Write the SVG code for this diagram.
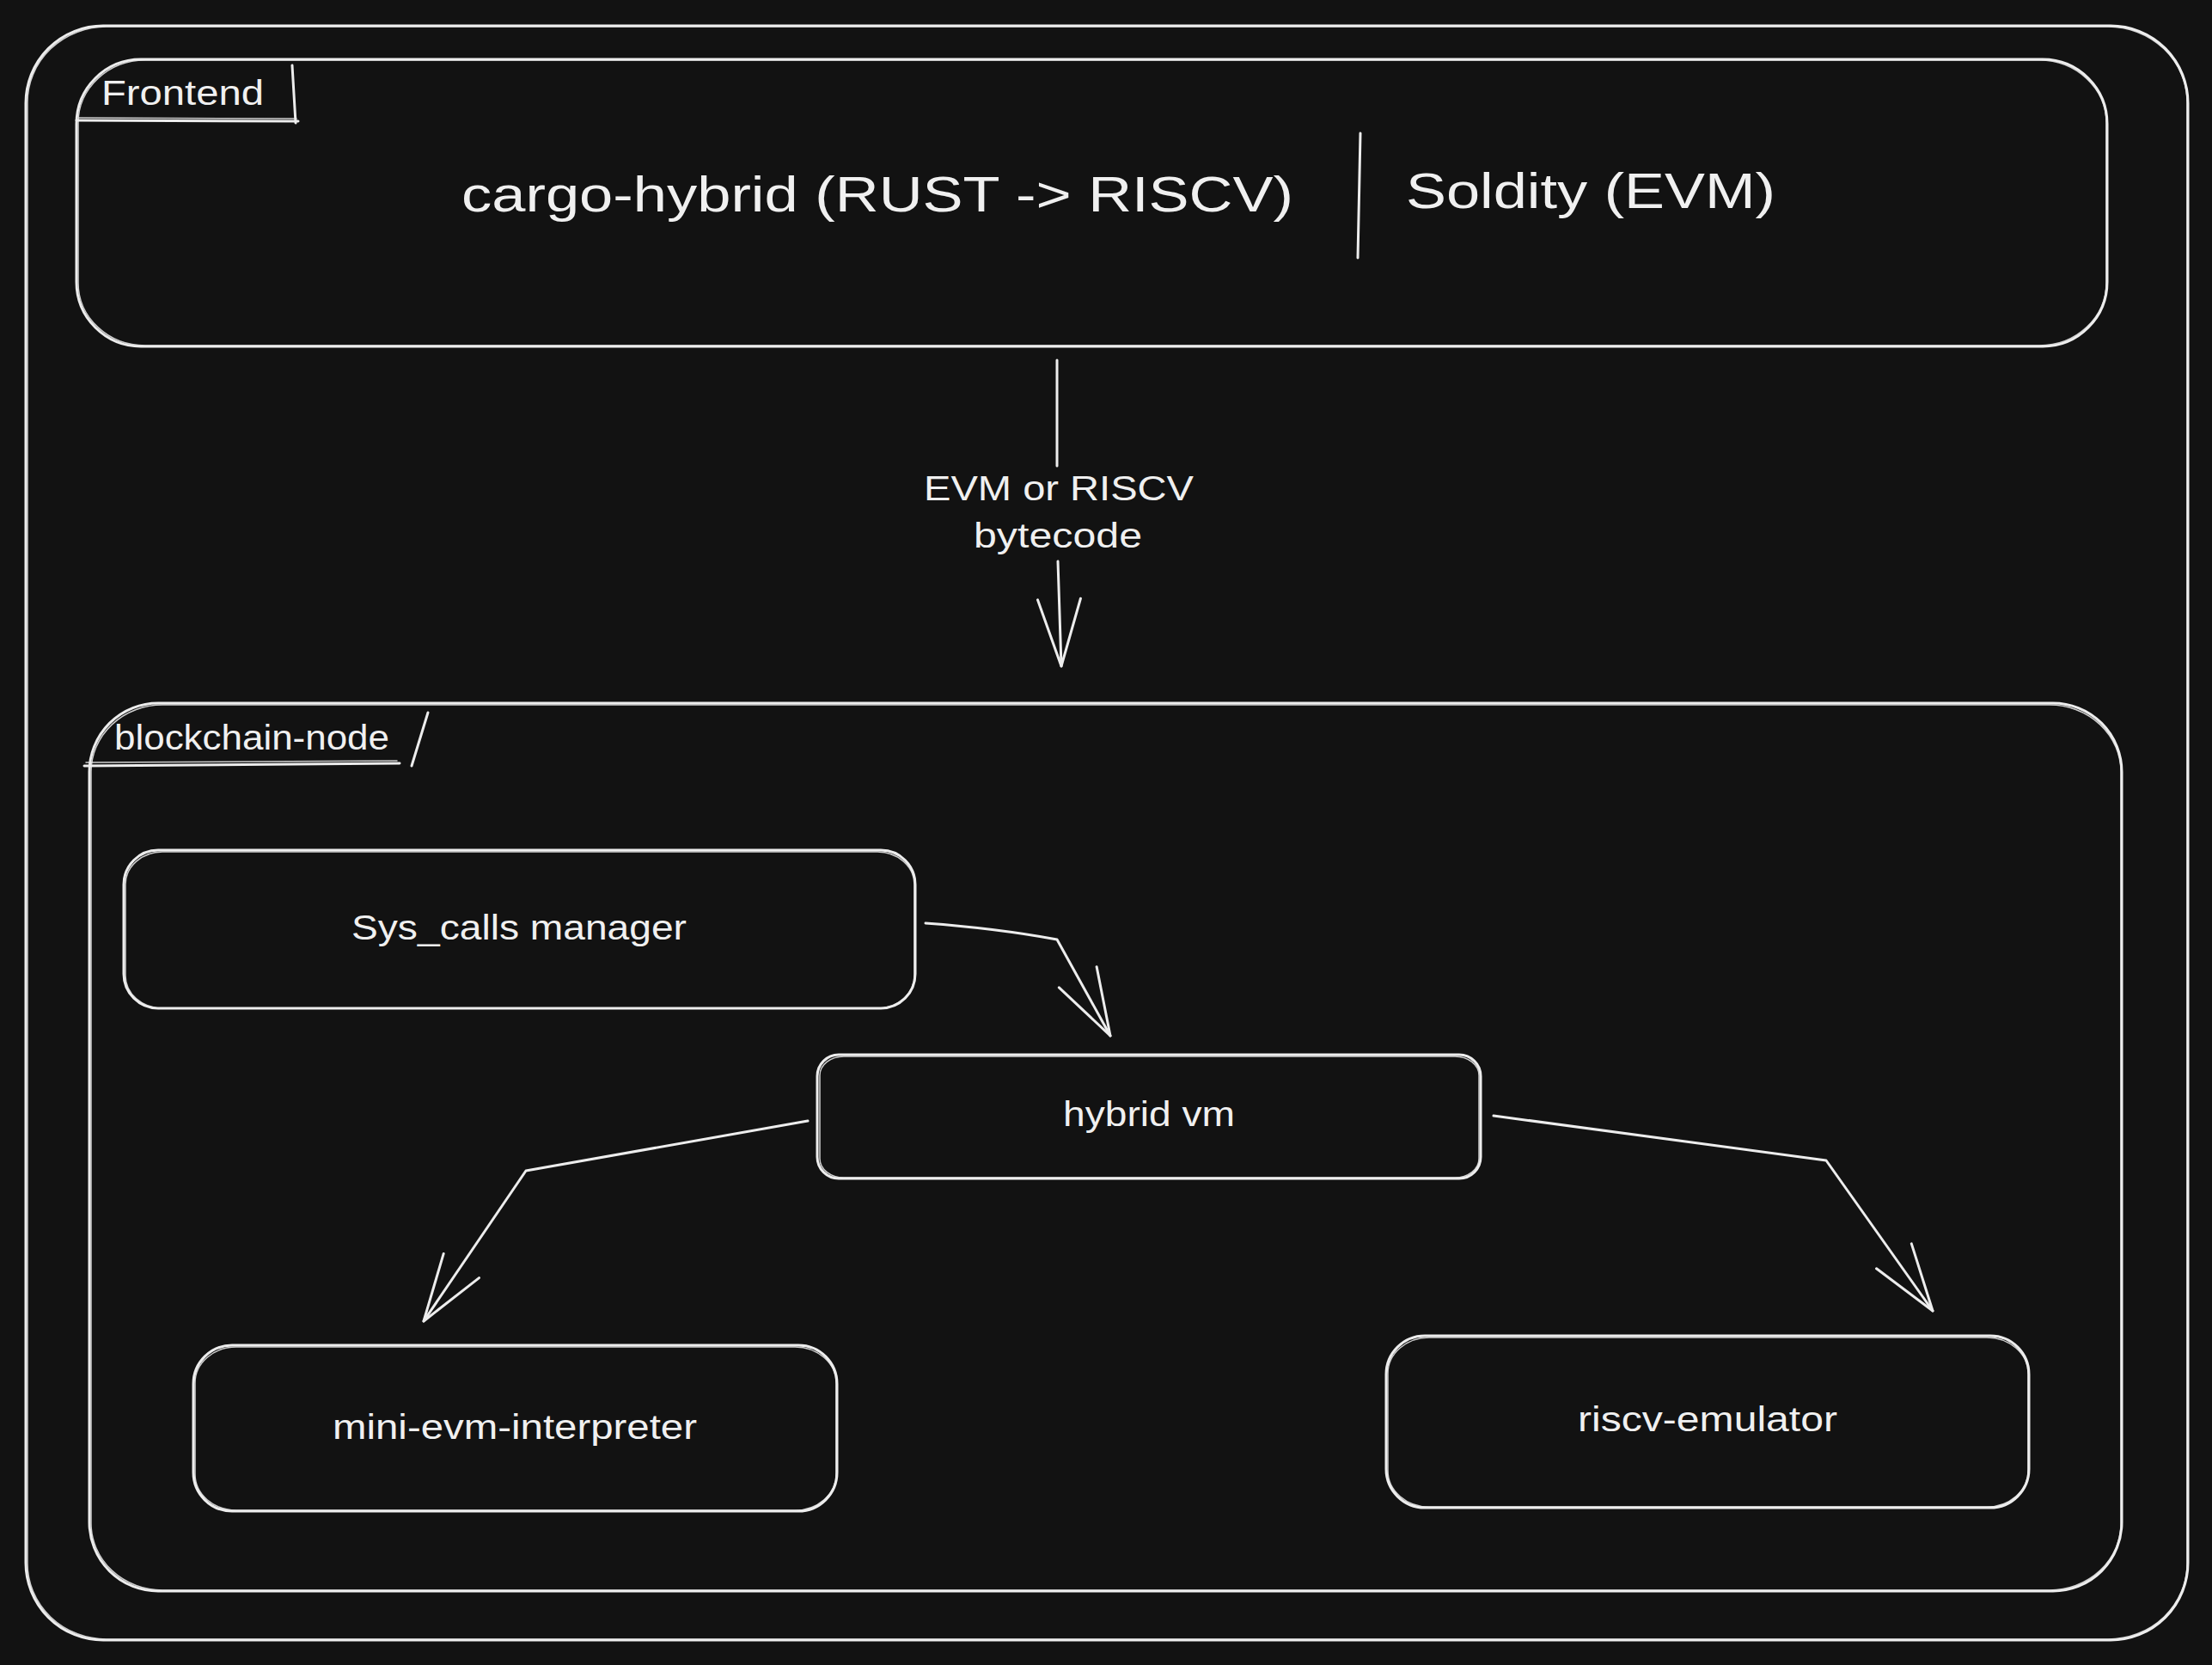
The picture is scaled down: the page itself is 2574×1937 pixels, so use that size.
<svg xmlns="http://www.w3.org/2000/svg" width="2574" height="1937" viewBox="0 0 2574 1937">
  <style>
    .bg { fill: #121212; }
    .box { fill: none; stroke: #ededed; stroke-width: 3; stroke-linecap: round; stroke-linejoin: round; }
    .sk { fill: none; stroke: #ededed; stroke-width: 1.5; stroke-linecap: round; opacity: 0.85; }
    .ln { fill: none; stroke: #ededed; stroke-width: 3; stroke-linecap: round; stroke-linejoin: round; }
    .t { font-family: "Liberation Sans", Arial, sans-serif; fill: #f0f0f0; }
    .lbl { font-size: 40px; }
    .big { font-size: 58px; }
  </style>
  <defs>
    <marker id="arr" markerUnits="userSpaceOnUse" markerWidth="96" markerHeight="64" viewBox="0 0 96 64" refX="86" refY="32" orient="auto">
      <path d="M8 7 L86 32 L8 57" fill="none" stroke="#ededed" stroke-width="3" stroke-linecap="round" stroke-linejoin="round"/>
    </marker>
  </defs>
  <rect class="bg" x="0" y="0" width="2574" height="1937"/>

  <g id="outer-frame">
    <rect class="box" x="30" y="30" width="2516" height="1878" rx="90" ry="90"/>
    <rect class="sk" x="32" y="31" width="2513" height="1876" rx="92" ry="88"/>
  </g>

  <g id="frontend">
    <rect class="box" x="89" y="69" width="2363" height="334" rx="75" ry="75"/>
    <rect class="sk" x="91" y="70" width="2360" height="332" rx="78" ry="73"/>
    <path class="ln" d="M89 140 L347 141"/>
    <path class="sk" d="M92 137 L345 138"/>
    <path class="ln" d="M340 76 L344 143"/>
    <text class="t lbl" x="118" y="122" textLength="189" lengthAdjust="spacingAndGlyphs">Frontend</text>
    <text class="t big" x="537" y="246" textLength="968" lengthAdjust="spacingAndGlyphs">cargo-hybrid (RUST -&gt; RISCV)</text>
    <path class="ln" d="M1583 155 L1580 300"/>
    <text class="t big" x="1636" y="242" textLength="430" lengthAdjust="spacingAndGlyphs">Soldity (EVM)</text>
  </g>

  <g id="blockchain-node">
    <rect class="box" x="104" y="818" width="2365" height="1033" rx="80" ry="80"/>
    <rect class="sk" x="106" y="820" width="2362" height="1030" rx="83" ry="78"/>
    <path class="ln" d="M98 891 L465 888"/>
    <path class="sk" d="M100 887 L462 885"/>
    <path class="ln" d="M498 829 L479 891"/>
    <text class="t lbl" x="133" y="872" textLength="320" lengthAdjust="spacingAndGlyphs">blockchain-node</text>
  </g>

  <g id="sys-calls-manager">
    <rect class="box" x="144" y="989" width="921" height="184" rx="40" ry="40"/>
    <rect class="sk" x="146" y="991" width="918" height="182" rx="43" ry="38"/>
    <text class="t lbl" x="409" y="1093" textLength="390" lengthAdjust="spacingAndGlyphs">Sys_calls manager</text>
  </g>

  <g id="hybrid-vm">
    <rect class="box" x="951" y="1227" width="772" height="144" rx="25" ry="25"/>
    <rect class="sk" x="954" y="1229" width="767" height="141" rx="28" ry="22"/>
    <text class="t lbl" x="1237" y="1310" textLength="200" lengthAdjust="spacingAndGlyphs">hybrid vm</text>
  </g>

  <g id="mini-evm-interpreter">
    <rect class="box" x="225" y="1565" width="749" height="193" rx="45" ry="45"/>
    <rect class="sk" x="227" y="1567" width="746" height="190" rx="48" ry="42"/>
    <text class="t lbl" x="387" y="1674" textLength="424" lengthAdjust="spacingAndGlyphs">mini-evm-interpreter</text>
  </g>

  <g id="riscv-emulator">
    <rect class="box" x="1613" y="1554" width="748" height="200" rx="45" ry="45"/>
    <rect class="sk" x="1615" y="1556" width="745" height="197" rx="48" ry="42"/>
    <text class="t lbl" x="1836" y="1665" textLength="302" lengthAdjust="spacingAndGlyphs">riscv-emulator</text>
  </g>

  <g id="connectors">
    <path class="ln" d="M1230 419 L1230 542"/>
    <path class="ln" d="M1231 653 L1235 775" marker-end="url(#arr)"/>
    <text class="t lbl" x="1075" y="582" textLength="314" lengthAdjust="spacingAndGlyphs">EVM or RISCV</text>
    <text class="t lbl" x="1133" y="637" textLength="196" lengthAdjust="spacingAndGlyphs">bytecode</text>
    <path class="ln" d="M1077 1074 Q1160 1080 1230 1093 L1292 1205" marker-end="url(#arr)"/>
    <path class="ln" d="M940 1304 L612 1362 L493 1537" marker-end="url(#arr)"/>
    <path class="ln" d="M1738 1298 L2125 1350 L2249 1525" marker-end="url(#arr)"/>
  </g>
</svg>
